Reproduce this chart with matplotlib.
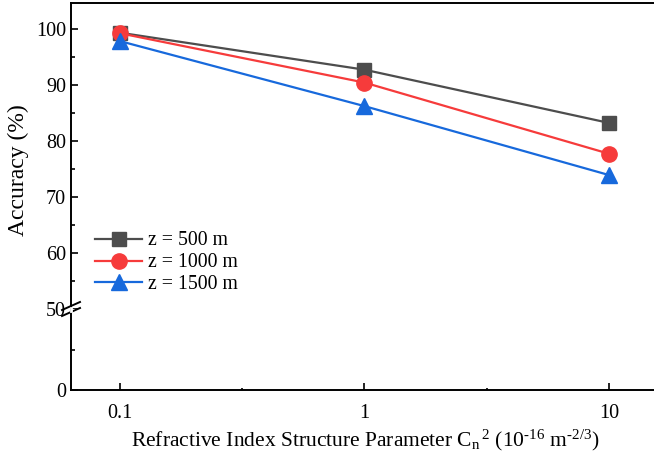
import numpy as np
import matplotlib
matplotlib.use("Agg")
from matplotlib import pyplot as plt

plt.rcParams['font.family'] = ['Liberation Serif', 'DejaVu Serif']
plt.rcParams['mathtext.fontset'] = 'custom'
plt.rcParams['mathtext.rm'] = 'Liberation Serif'
plt.rcParams['mathtext.it'] = 'Liberation Serif:italic'

# data
cn2 = [0.1, 1, 10]
acc_500 = [99.3, 92.7, 83.2]
acc_1000 = [99.2, 90.4, 77.7]
acc_1500 = [97.8, 86.2, 73.9]
labels = ["z = 500 m", "z = 1000 m", "z = 1500 m"]
xtick_labels = ["0.1", "1", "10"]

colors = ["#4d4d4d", "#f63b3b", "#1769dc"]
markers = ["s", "o", "^"]
sizes = [9.5, 11, 11.5]

fig = plt.figure(figsize=(6.54, 4.63), dpi=100)
L, W = 71/654, 1 - 71/654
ax = fig.add_axes([L, 154/463, W, 306/463])
axb = fig.add_axes([L, 73/463, W, 81/463], sharex=ax)

for ys, lab, c, m, s in zip([acc_500, acc_1000, acc_1500], labels, colors, markers, sizes):
    ax.plot(cn2, ys, color=c, marker=m, ms=s, lw=1.6, label=lab)

ax.set_xscale("log")
ax.set_xlim(10**-1.2, 10**1.184)
ax.set_ylim(50, 104.6)
ax.set_yticks([50, 60, 70, 80, 90, 100])
ax.set_yticks([55, 65, 75, 85, 95], minor=True)
ax.spines['right'].set_visible(False)
ax.spines['bottom'].set_visible(False)
ax.tick_params(axis='x', which='both', bottom=False, labelbottom=False)
ax.tick_params(axis='y', which='major', direction='in', length=5, width=1.2, labelsize=14.5)
ax.tick_params(axis='y', which='minor', direction='in', length=3, width=1.2)

axb.set_ylim(0, 50)
axb.set_yticks([0])
axb.set_yticks([25], minor=True)
axb.spines['right'].set_visible(False)
axb.spines['top'].set_visible(False)
axb.set_xticks(cn2)
axb.set_xticklabels(xtick_labels)
axb.set_xticks([10**-0.5, 10**0.5], minor=True)
axb.xaxis.set_minor_formatter(matplotlib.ticker.NullFormatter())
axb.tick_params(axis='x', which='major', direction='in', length=5, width=1.2, labelsize=14.5, pad=10)
axb.tick_params(axis='x', which='minor', direction='in', length=1.5, width=1.2)
axb.tick_params(axis='y', which='major', direction='in', length=5, width=1.2, labelsize=14.5)
axb.tick_params(axis='y', which='minor', direction='in', length=3, width=1.2)
for a in (ax, axb):
    for sp in a.spines.values():
        sp.set_linewidth(1.4)

# break marks on the left spine
bx, by = 71, 463 - 309
for dy in (-3, 3):
    fig.add_artist(plt.Line2D([(bx - 9)/654, (bx + 9)/654], [(by + dy - 4)/463, (by + dy + 4)/463],
                              color="black", lw=1.4))
fig.add_artist(plt.Line2D([bx/654, bx/654], [(by - 1.5)/463, (by + 1.5)/463], color="white", lw=2))

ax.legend(loc="upper left", bbox_to_anchor=(0.014, 0.305), frameon=False, fontsize=14.2,
          handlelength=2.4, handletextpad=0.3, labelspacing=0.15, borderaxespad=0.4)

fig.text(365/654, 1 - 440/463, r"Refractive Index Structure Parameter C$_\mathrm{n}$$^{\,2}$ (10$^{\text{-}16}$ m$^{\text{-}2/3}$)",
         ha="center", va="center", fontsize=15.5)
fig.text(18/654, 1 - 170/463, "Accuracy (%)", rotation=90, ha="center", va="center", fontsize=17)

fig.savefig("out.png", dpi=100)
